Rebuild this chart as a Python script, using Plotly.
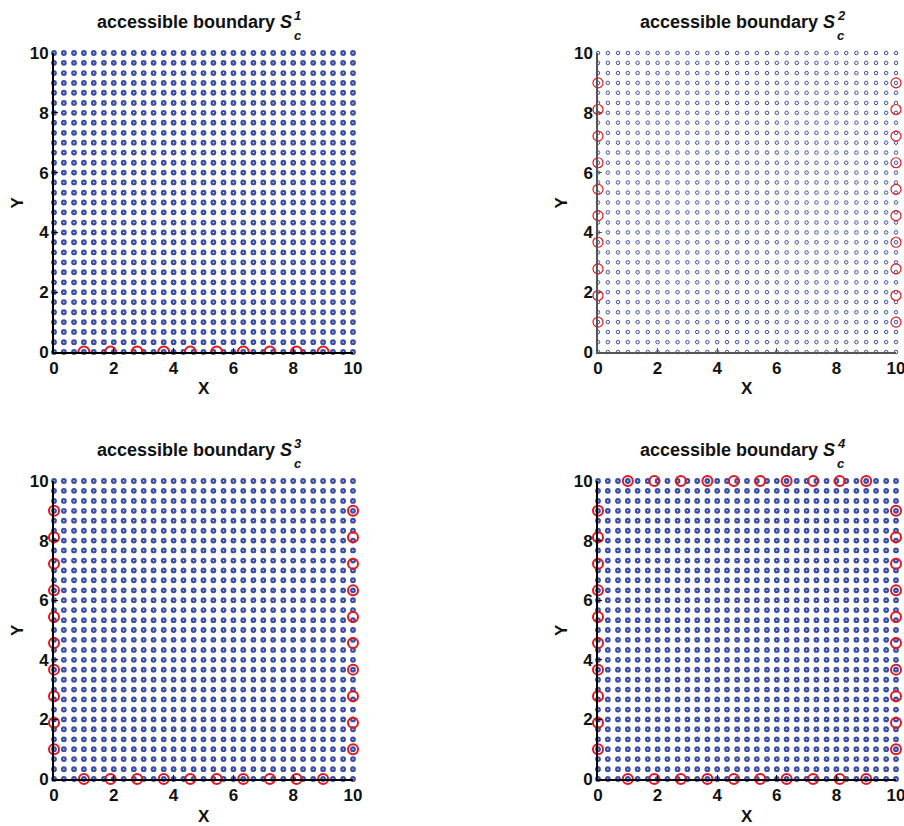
import plotly.graph_objects as go

# ---- data ----
grid_values = [0, 0.33, 0.67, 1, 1.33, 1.67, 2, 2.33, 2.67, 3, 3.33, 3.67, 4, 4.33, 4.67,
               5, 5.33, 5.67, 6, 6.33, 6.67, 7, 7.33, 7.67, 8, 8.33, 8.67, 9, 9.33, 9.67, 10]
boundary_pos = [1, 1.89, 2.78, 3.67, 4.56, 5.44, 6.33, 7.22, 8.11, 9]
edge_low = 0
edge_high = 10
tick_vals = [0, 2, 4, 6, 8, 10]
panel_sup = ["1", "2", "3", "4"]
# which boundaries are marked in each panel
panel_edges = [
    ("bottom",),
    ("left", "right"),
    ("bottom", "left", "right"),
    ("bottom", "left", "right", "top"),
]

W, H = 904, 826
BLUE = "#3a4ea8"
RED = "#e8141c"

# pixel boxes of the four panels in window coords (x0, x1, ytop, ybottom)
boxes = [(54, 353, 53, 352), (598, 896, 53, 352), (54, 353, 481, 779), (598, 896, 481, 779)]


def px(v):
    return v / W


def py(v):
    return 1 - v / H


fig = go.Figure()

gx = [xv for yv in grid_values for xv in grid_values]
gy = [yv for yv in grid_values for xv in grid_values]

FONT = "Liberation Sans, Arial"
annotations = []
for i, (x0, x1, yt, yb) in enumerate(boxes):
    n = "" if i == 0 else str(i + 1)
    xa, ya = "x" + n, "y" + n
    hollow = (i == 1)
    fig.add_trace(go.Scatter(
        x=gx, y=gy, mode="markers", xaxis=xa, yaxis=ya, cliponaxis=False,
        marker=dict(symbol="circle-open", size=3.5 if hollow else 3.6, color=BLUE,
                    line=dict(color=BLUE, width=1 if hollow else 2.2)),
        showlegend=False, hoverinfo="skip"))
    rx, ry = [], []
    for e in panel_edges[i]:
        if e == "bottom":
            rx += boundary_pos; ry += [edge_low] * len(boundary_pos)
        elif e == "top":
            rx += boundary_pos; ry += [edge_high] * len(boundary_pos)
        elif e == "left":
            rx += [edge_low] * len(boundary_pos); ry += boundary_pos
        elif e == "right":
            rx += [edge_high] * len(boundary_pos); ry += boundary_pos
    fig.add_trace(go.Scatter(
        x=rx, y=ry, mode="markers", xaxis=xa, yaxis=ya, cliponaxis=(i == 0),
        marker=dict(symbol="circle-open", size=11 if i == 0 else 10, color=RED,
                    line=dict(color=RED, width=1.2 if hollow else 2)),
        showlegend=False, hoverinfo="skip"))

    axcol = "#555555" if hollow else "black"
    axw = 1.5 if hollow else 2
    common = dict(range=[edge_low, edge_high], tickvals=tick_vals, ticks="inside", ticklen=4,
                  tickcolor=axcol, showline=True, linecolor=axcol, linewidth=axw,
                  showgrid=False, zeroline=False, automargin=False, ticklabeloverflow="allow",
                  tickfont=dict(family=FONT, size=17, color="#111111", weight="bold"))
    fig.layout["xaxis" + n] = dict(domain=[px(x0), px(x1)], anchor=ya, **common)
    fig.layout["yaxis" + n] = dict(domain=[py(yb), py(yt)], anchor=xa, **common)

    cx = (x0 + x1) / 2
    tfont = dict(family=FONT, size=18, color="#111111", weight="bold")
    sfont = dict(family=FONT, size=13, color="#111111", weight="bold")
    annotations.append(dict(x=px(cx + 90), y=py(yt - 31), xref="paper", yref="paper",
                            text="accessible boundary <i>S</i>", showarrow=False,
                            xanchor="right", yanchor="middle", font=tfont))
    annotations.append(dict(x=px(cx + 88), y=py(yt - 37), xref="paper", yref="paper",
                            text="<i>" + panel_sup[i] + "</i>", showarrow=False,
                            xanchor="left", yanchor="middle", font=sfont))
    annotations.append(dict(x=px(cx + 88), y=py(yt - 18), xref="paper", yref="paper",
                            text="<i>c</i>", showarrow=False,
                            xanchor="left", yanchor="middle", font=sfont))
    annotations.append(dict(x=px(cx), y=py(yb + 37), xref="paper", yref="paper",
                            text="X", showarrow=False, xanchor="center", yanchor="middle",
                            font=dict(family=FONT, size=17, color="#111111", weight="bold")))
    annotations.append(dict(x=px(x0 - 37), y=py((yt + yb) / 2), xref="paper", yref="paper",
                            text="Y", showarrow=False, xanchor="center", yanchor="middle", textangle=-90,
                            font=dict(family=FONT, size=17, color="#111111", weight="bold")))

fig.update_layout(width=W, height=H, margin=dict(l=0, r=0, t=0, b=0),
                  paper_bgcolor="white", plot_bgcolor="white",
                  template="none", annotations=annotations)

fig.write_html("out.html", config={"displayModeBar": False},
               post_script="document.body.style.margin='0';document.body.style.overflow='hidden';")
